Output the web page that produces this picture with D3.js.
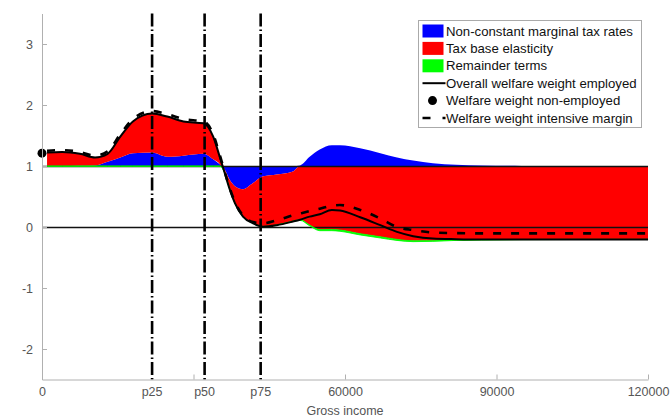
<!DOCTYPE html>
<html>
<head>
<meta charset="utf-8">
<script src="https://cdn.jsdelivr.net/npm/d3@7"></script>
<style>
  body { margin: 0; background: #fff; }
  svg { font-family: "Liberation Sans", Arial, sans-serif; }
</style>
</head>
<body>
<svg id="chart" width="672" height="419"></svg>
<script>
"use strict";

// gross income grid the curves were read at
var incomes = [1000, 4000, 7500, 10500, 13000, 15500, 18000, 21800, 24800, 28000, 32000, 33900,
  35200, 36200, 37200, 38200, 39800, 41800, 43800, 46500, 49700, 51100, 53000, 55000,
  57400, 59000, 63000, 67000, 70300, 73500, 77400, 82000, 87000, 95000, 105000, 120000];

// overall welfare weight employed (solid black)
var overall = [1.22, 1.23, 1.2, 1.14, 1.2, 1.48, 1.73, 1.86, 1.81, 1.73, 1.7, 1.48,
  1.15, 0.88, 0.61, 0.39, 0.17, 0.06, 0.005, 0.03, 0.09, 0.12, 0.17, 0.21,
  0.28, 0.27, 0.16, 0.03, -0.08, -0.15, -0.19, -0.2, -0.205, -0.205, -0.205, -0.205];

// welfare weight intensive margin (dashed)
var intensive = [1.25, 1.26, 1.23, 1.17, 1.24, 1.52, 1.77, 1.9, 1.85, 1.77, 1.73, 1.52,
  1.18, 0.9, 0.63, 0.41, 0.19, 0.08, 0.06, 0.11, 0.19, 0.22, 0.26, 0.3,
  0.35, 0.36, 0.28, 0.14, 0, -0.05, -0.09, -0.1, -0.105, -0.105, -0.105, -0.105];

// non-constant marginal tax rates component
var marginal = [0, 0, 0.005, 0.01, 0.07, 0.14, 0.21, 0.22, 0.15, 0.17, 0.2, 0.11,
  0.03, -0.06, -0.23, -0.33, -0.38, -0.28, -0.17, -0.14, -0.09, 0.01, 0.15, 0.27,
  0.34, 0.34, 0.29, 0.21, 0.14, 0.09, 0.045, 0.02, 0.008, 0.002, 0, 0];

// remainder terms component
var remainder = [-0.005, -0.005, -0.005, -0.005, -0.005, -0.005, -0.005, -0.005, -0.005, -0.005, -0.005, -0.005,
  -0.005, -0.004, -0.004, -0.004, -0.004, -0.004, -0.004, -0.004, -0.006, -0.008, -0.012, -0.018,
  -0.02, -0.02, -0.02, -0.02, -0.017, -0.014, -0.01, -0.007, -0.004, -0.002, -0.002, -0.002];

var nonEmployed = { income: 0, weight: 1.21 };

var percentiles = [
  { label: "p25", income: 21800 },
  { label: "p50", income: 32200 },
  { label: "p75", income: 43300 },
];

var xTicks = [0, 30000, 60000, 90000, 120000];
var yTicks = [-2, -1, 0, 1, 2, 3];

var legendItems = [
  { text: "Non-constant marginal tax rates", type: "rect", color: "#0000ff" },
  { text: "Tax base elasticity", type: "rect", color: "#ff0000" },
  { text: "Remainder terms", type: "rect", color: "#00ff00" },
  { text: "Overall welfare weight employed", type: "line" },
  { text: "Welfare weight non-employed", type: "dot" },
  { text: "Welfare weight intensive margin", type: "dash" },
];

// tax base elasticity is what is left of the overall weight above 1
var rows = incomes.map((inc, i) => ({
  income: inc,
  blue: marginal[i],
  red: overall[i] - 1 - marginal[i] - remainder[i],
  green: remainder[i],
  overall: overall[i],
  intensive: intensive[i],
}));

var svg = d3.select("#chart");

var x = d3.scaleLinear().domain([0, 120000]).range([42, 648]);
var y = d3.scaleLinear().domain([-2.5, 3.5]).range([379.5, 13.5]);

var axisGrey = "#b0b0b0",
  textGrey = "#555",
  fontSize = "12.5px";

var stacked = d3
  .stack()
  .keys(["blue", "red", "green"])
  .offset(d3.stackOffsetDiverging)(rows);

var colors = { blue: "#0000ff", red: "#ff0000", green: "#00ff00" };

var area = d3
  .area()
  .curve(d3.curveMonotoneX)
  .x((d) => x(d.data.income))
  .y0((d) => y(1 + d[0]))
  .y1((d) => y(1 + d[1]));

svg
  .append("g")
  .selectAll("path")
  .data(stacked.filter((s) => s.key !== "green"))
  .enter()
  .append("path")
  .attr("d", area)
  .attr("fill", (d) => colors[d.key]);

// reference lines at 1 and 0
svg
  .append("g")
  .selectAll("line")
  .data([1, 0])
  .enter()
  .append("line")
  .attr("x1", x(0))
  .attr("x2", x(120000))
  .attr("y1", (d) => y(d) + 0.5)
  .attr("y2", (d) => y(d) + 0.5)
  .attr("stroke", "#111")
  .attr("stroke-width", 1.3);

svg
  .append("path")
  .datum(stacked.find((s) => s.key === "green"))
  .attr("d", area)
  .attr("fill", colors.green)
  .attr("stroke", colors.green)
  .attr("stroke-width", 0.9);

// percentile markers
svg
  .append("g")
  .selectAll("line")
  .data(percentiles)
  .enter()
  .append("line")
  .attr("x1", (d) => x(d.income))
  .attr("x2", (d) => x(d.income))
  .attr("y1", y(3.5))
  .attr("y2", y(-2.5))
  .attr("stroke", "#000")
  .attr("stroke-width", 2.6)
  .attr("stroke-dasharray", "13,3,1.5,3");

var line = (key) =>
  d3
    .line()
    .curve(d3.curveMonotoneX)
    .x((d) => x(d.income))
    .y((d) => y(d[key]));

svg
  .append("path")
  .datum(rows)
  .attr("d", line("intensive"))
  .attr("fill", "none")
  .attr("stroke", "#000")
  .attr("stroke-width", 2.6)
  .attr("stroke-dasharray", "8,10");

svg
  .append("path")
  .datum(rows)
  .attr("d", line("overall"))
  .attr("fill", "none")
  .attr("stroke", "#000")
  .attr("stroke-width", 2);

svg
  .append("circle")
  .attr("cx", x(nonEmployed.income))
  .attr("cy", y(nonEmployed.weight))
  .attr("r", 4.5)
  .attr("fill", "#000");

// axes, ticks pointing inwards
var yAxis = svg
  .append("g")
  .attr("transform", `translate(${x(0)},0)`)
  .call(
    d3
      .axisLeft(y)
      .tickValues(yTicks)
      .tickSizeInner(-5)
      .tickSizeOuter(0)
      .tickPadding(9)
      .tickFormat((d) => String(d))
  );

var xAxis = svg
  .append("g")
  .attr("transform", `translate(0,${y(-2.5)})`)
  .call(
    d3
      .axisBottom(x)
      .tickValues(xTicks)
      .tickSizeInner(-5)
      .tickSizeOuter(0)
      .tickPadding(8)
      .tickFormat((d) => (d === 30000 ? "" : String(d)))
  );

[yAxis, xAxis].forEach((g) => {
  g.select(".domain").attr("stroke", axisGrey);
  g.selectAll(".tick line").attr("stroke", axisGrey);
  g.selectAll(".tick text")
    .attr("fill", textGrey)
    .style("font-size", fontSize)
    .style("font-family", '"Liberation Sans", Arial, sans-serif');
});

svg
  .append("g")
  .selectAll("text")
  .data(percentiles)
  .enter()
  .append("text")
  .attr("x", (d) => x(d.income))
  .attr("y", y(-2.5) + 8)
  .attr("dy", "0.71em")
  .attr("text-anchor", "middle")
  .attr("fill", textGrey)
  .style("font-size", fontSize)
  .text((d) => d.label);

svg
  .append("text")
  .attr("x", x(60000))
  .attr("y", 415)
  .attr("text-anchor", "middle")
  .attr("fill", textGrey)
  .style("font-size", fontSize)
  .text("Gross income");

// legend
var legend = svg.append("g").attr("transform", "translate(418.5,20.5)");

legend
  .append("rect")
  .attr("width", 223)
  .attr("height", 107)
  .attr("fill", "#fff")
  .attr("stroke", "#aaa");

var items = legend
  .selectAll(".item")
  .data(legendItems)
  .enter()
  .append("g")
  .attr("class", "item")
  .attr("transform", (d, i) => `translate(0,${10.5 + i * 17.4})`);

items
  .filter((d) => d.type === "rect")
  .append("rect")
  .attr("x", 4)
  .attr("y", -6.5)
  .attr("width", 21)
  .attr("height", 13)
  .attr("fill", (d) => d.color);

items
  .filter((d) => d.type === "line")
  .append("line")
  .attr("x1", 4)
  .attr("x2", 27)
  .attr("stroke", "#000")
  .attr("stroke-width", 2);

items
  .filter((d) => d.type === "dot")
  .append("circle")
  .attr("cx", 14)
  .attr("r", 4.5)
  .attr("fill", "#000");

items
  .filter((d) => d.type === "dash")
  .append("line")
  .attr("x1", 4)
  .attr("x2", 27)
  .attr("stroke", "#000")
  .attr("stroke-width", 2.6)
  .attr("stroke-dasharray", "8,12");

items
  .append("text")
  .attr("x", 27.5)
  .attr("dy", "0.35em")
  .attr("fill", "#111")
  .style("font-size", "13.2px")
  .text((d) => d.text);
</script>
</body>
</html>
